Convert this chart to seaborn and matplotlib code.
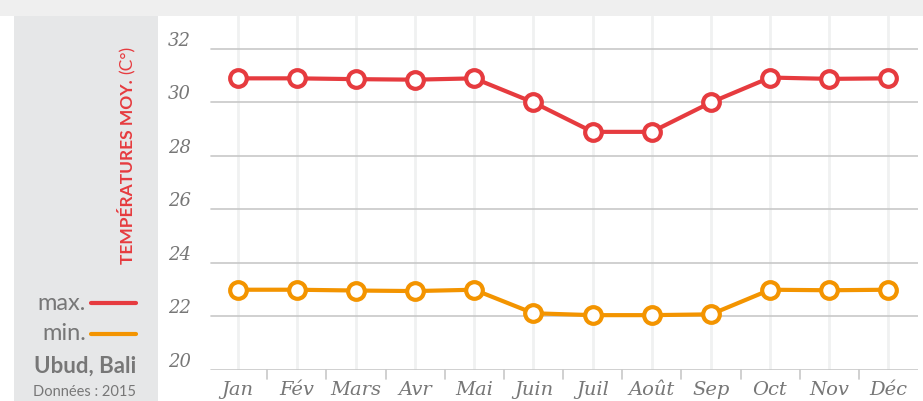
import pandas as pd
import seaborn as sns
import matplotlib.pyplot as plt
from matplotlib.patches import Rectangle
from matplotlib.lines import Line2D
from matplotlib.transforms import ScaledTranslation

# Monthly average temperatures, Ubud (Bali), 2015
months = ['Jan', 'Fév', 'Mars', 'Avr', 'Mai', 'Juin', 'Juil', 'Août', 'Sep', 'Oct', 'Nov', 'Déc']
t_max = [30.9, 30.9, 30.87, 30.85, 30.9, 30.0, 28.9, 28.9, 30.0, 30.93, 30.88, 30.9]
t_min = [23.0, 23.0, 22.97, 22.95, 23.0, 22.12, 22.05, 22.05, 22.08, 23.0, 22.98, 23.0]
y_ticks = [20, 22, 24, 26, 28, 30, 32]

red = '#e63b3f'
orange = '#f39400'
grey_txt = '#777777'

df = pd.DataFrame({'mois': months, 'max': t_max, 'min': t_min})

sns.set_style('white')
plt.rcParams['font.family'] = ['Lato', 'DejaVu Sans']

fig = plt.figure(figsize=(9.23, 4.01), dpi=100)
W, H = 923, 401

def fx(px):
    return px / W

def fy(py):
    return 1 - py / H

# background: top strip and grey side panel
fig.patches.append(Rectangle((0, fy(16)), 1, 16 / H, transform=fig.transFigure,
                             facecolor='#efefef', edgecolor='none', zorder=0))
fig.patches.append(Rectangle((fx(14), 0), fx(158) - fx(14), fy(16), transform=fig.transFigure,
                             facecolor='#e6e7e8', edgecolor='none', zorder=0))

ax = fig.add_axes([fx(208), fy(370), fx(918) - fx(208), (370 - 16) / H])
ax.set_facecolor('none')

for col, c in [('max', red), ('min', orange)]:
    sns.lineplot(data=df, x='mois', y=col, ax=ax, sort=False, color=c, linewidth=3,
                 marker='o', markersize=12, markerfacecolor='white',
                 markeredgecolor=c, markeredgewidth=3, zorder=3)

ax.set_xlim(-0.5, 11.5)
ax.set_ylim(20, 33.23)
ax.set_yticks(y_ticks)
ax.set_xticks(range(len(months)))
ax.set_xticklabels(months)
ax.set_xlabel('')
ax.set_ylabel('')

# gridlines
for v in y_ticks:
    ax.axhline(v, color='#c8c8c8', linewidth=1.2, zorder=1, xmin=0.004, xmax=1.0)
for i in range(len(months)):
    ax.axvline(i, color='#f0f1f1', linewidth=2, zorder=0.5)
# small ticks between months
for i in range(len(months) - 1):
    ax.plot([i + 0.5, i + 0.5], [0, -0.025], transform=ax.get_xaxis_transform(),
            color='#c8c8c8', linewidth=1.2, clip_on=False)

for s in ax.spines.values():
    s.set_visible(False)
ax.tick_params(axis='both', length=0)
ax.tick_params(axis='y', pad=29)
ax.tick_params(axis='x', pad=8)
lift = ScaledTranslation(0, 10 / 100, fig.dpi_scale_trans)
for lab in ax.get_yticklabels():
    lab.set_family('DejaVu Serif')
    lab.set_style('italic')
    lab.set_color(grey_txt)
    lab.set_fontsize(13)
    lab.set_horizontalalignment('left')
    lab.set_transform(lab.get_transform() + lift)
for lab in ax.get_xticklabels():
    lab.set_family('DejaVu Serif')
    lab.set_style('italic')
    lab.set_color(grey_txt)
    lab.set_fontsize(14)

# side panel texts
fig.text(fx(128), fy(264), 'TEMPÉRATURES MOY.', rotation=90, color=red,
         fontsize=12.5, fontweight='bold', ha='center', va='bottom')
fig.text(fx(128), fy(74), '(C°)', rotation=90, color=red,
         fontsize=12.5, ha='center', va='bottom')

fig.text(fx(86), fy(303), 'max.', color=grey_txt, fontsize=17, ha='right', va='center')
fig.text(fx(86), fy(333), 'min.', color=grey_txt, fontsize=17, ha='right', va='center')
fig.lines.append(Line2D([fx(91), fx(136)], [fy(303), fy(303)], transform=fig.transFigure,
                        color=red, linewidth=3))
fig.lines.append(Line2D([fx(91), fx(136)], [fy(334), fy(334)], transform=fig.transFigure,
                        color=orange, linewidth=3))
fig.text(fx(136), fy(366), 'Ubud, Bali', color=grey_txt, fontsize=16,
         fontweight='bold', ha='right', va='center')
fig.text(fx(136), fy(392), 'Données : 2015', color=grey_txt, fontsize=10.5,
         ha='right', va='center')

fig.savefig('out.png', dpi=100)
